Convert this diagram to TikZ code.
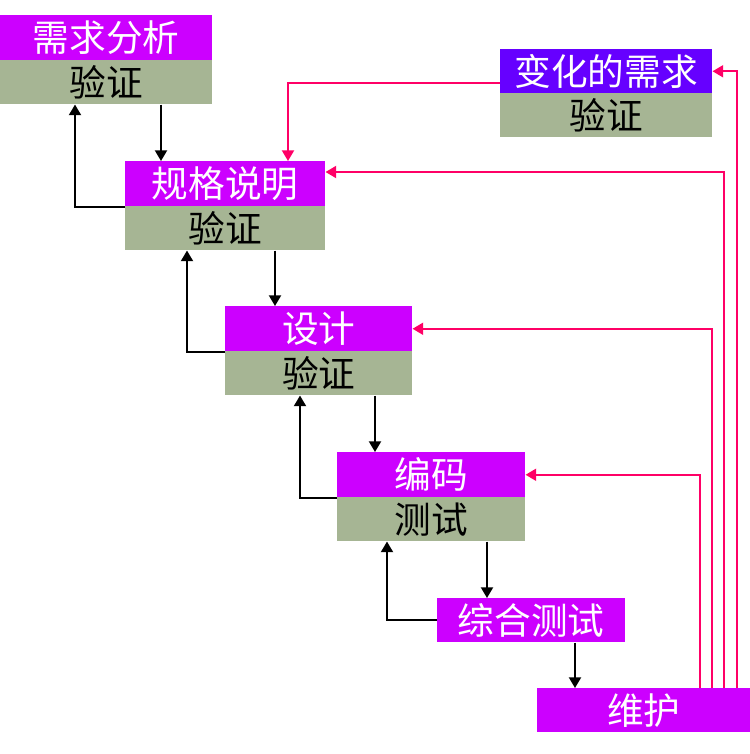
\documentclass[tikz,border=0pt]{standalone}
\usepackage{fontspec}
\setmainfont{Noto Sans CJK SC}
\usetikzlibrary{calc,arrows.meta}
\definecolor{mag}{HTML}{CC00FF}
\definecolor{vio}{HTML}{6600FF}
\definecolor{sage}{HTML}{A6B594}
\definecolor{rline}{HTML}{FF0066}
\begin{document}
\begin{tikzpicture}[x=0.75pt,y=-0.75pt,
  title/.style={fill=mag,text=white,inner sep=0pt,anchor=north west,minimum height=33.75pt,font=\fontsize{27.5}{27.5}\selectfont},
  verify/.style={fill=sage,text=black,inner sep=0pt,anchor=north west,minimum height=33pt,font=\fontsize{27.5}{27.5}\selectfont},
  blk/.style={draw=black,line width=1.5pt,-{Triangle[length=8pt,width=9pt]}},
  rd/.style={draw=rline,line width=1.5pt,-{Triangle[length=8pt,width=9pt]}}]
\useasboundingbox (0,0) rectangle (750,754);
% boxes
\node[title,minimum width=159pt] (r1t) at (0,15) {需求分析};
\node[verify,minimum width=159pt] (r1v) at (0,60) {验证};
\node[title,minimum width=150pt] (r2t) at (125,161) {规格说明};
\node[verify,minimum width=150pt] (r2v) at (125,206) {验证};
\node[title,minimum width=140.25pt] (r3t) at (225,306) {设计};
\node[verify,minimum width=140.25pt] (r3v) at (225,351) {验证};
\node[title,minimum width=141pt] (r4t) at (337,452) {编码};
\node[verify,minimum width=141pt] (r4v) at (337,497) {测试};
\node[title,minimum width=141pt,minimum height=33pt] (r5) at (437,598) {综合测试};
\node[title,minimum width=159.75pt,minimum height=33pt] (r6) at (537,688) {维护};
\node[title,fill=vio,minimum width=159pt,minimum height=33pt] (r7t) at (500,49) {变化的需求};
\node[verify,minimum width=159pt] (r7v) at (500,93) {验证};
% black connectors
\coordinate (c1) at ($(r1v.south west)+(161,0)$);
\coordinate (b1) at ($(r1v.south west)+(75,0)$);
\coordinate (c2) at ($(r2v.south west)+(150,0)$);
\coordinate (b2) at ($(r2v.south west)+(62,0)$);
\coordinate (c3) at ($(r3v.south west)+(150,0)$);
\coordinate (b3) at ($(r3v.south west)+(75,0)$);
\coordinate (c4) at ($(r4v.south west)+(150,0)$);
\coordinate (b4) at ($(r4v.south west)+(50,0)$);
\coordinate (c5) at ($(r5.south west)+(138,0)$);
\draw[blk] (c1) -- (c1 |- r2t.north);
\draw[blk] (r2t.south west) -| (b1);
\draw[blk] (c2) -- (c2 |- r3t.north);
\draw[blk] (r3t.south west) -| (b2);
\draw[blk] (c3) -- (c3 |- r4t.north);
\draw[blk] (r4t.south west) -| (b3);
\draw[blk] (c4) -- (c4 |- r5.north);
\draw[blk] (r5.west) -| (b4);
\draw[blk] (c5) -- (c5 |- r6.north);
% red connectors
\coordinate (d1) at ($(r7t.south west)+(0,-11)$);
\coordinate (d2) at ($(r2t.north west)+(163,0)$);
\coordinate (e1) at ($(r6.north west)+(163,0)$);
\coordinate (e2) at ($(r6.north west)+(175,0)$);
\coordinate (e3) at ($(r6.north west)+(187,0)$);
\coordinate (e4) at ($(r6.north west)+(200,0)$);
\coordinate (t2) at ($(r2t.north east)+(0,11)$);
\draw[rd] (d1) -| (d2);
\draw[rd] (e1) |- (r4t.east);
\draw[rd] (e2) |- (r3t.east);
\draw[rd] (e3) |- (t2);
\draw[rd] (e4) |- (r7t.east);
\end{tikzpicture}
\end{document}
